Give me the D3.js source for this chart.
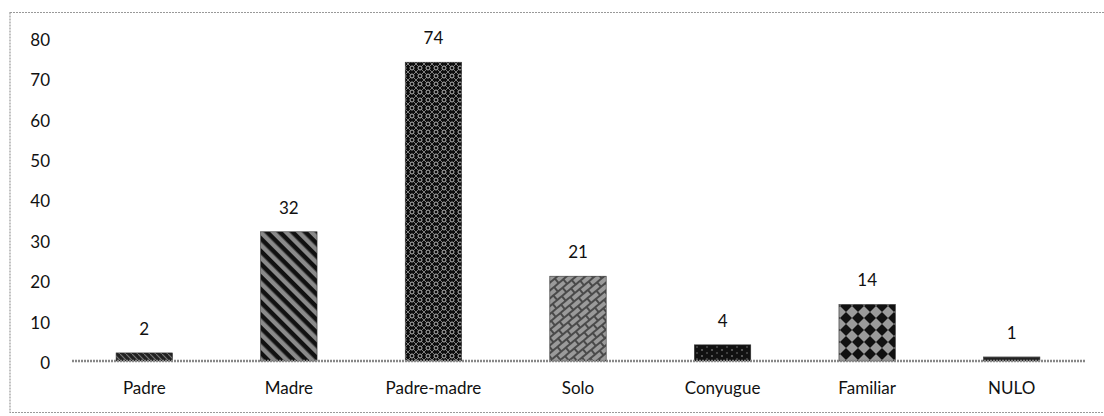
<!DOCTYPE html>
<html><head><meta charset="utf-8">
<script src="https://cdn.jsdelivr.net/npm/d3@7"></script>
<style>body{margin:0;background:#fff}svg{display:block}</style>
</head><body><svg id="c" width="1104" height="416"></svg>
<script>
const categories = ["Padre","Madre","Padre-madre","Solo","Conyugue","Familiar","NULO"];
const values = [2,32,74,21,4,14,1];
const yTicks = [0,10,20,30,40,50,60,70,80];
const patternIds = ["pPadre","pMadre","pPM","pSolo","pCony","pFam","pNulo"];

const svg = d3.select("#c");
const defs = svg.append("defs");
function pat(id, w, h, bg, draw, rot){
  const p = defs.append("pattern").attr("id", id).attr("patternUnits","userSpaceOnUse")
    .attr("width", w).attr("height", h);
  if (rot) p.attr("patternTransform", "rotate(" + rot + ")");
  p.append("rect").attr("width", w).attr("height", h).attr("fill", bg);
  draw(p);
}
pat("pPadre", 6, 6, "#222", p => p.append("path").attr("d","M0,0L6,6").attr("stroke","#777").attr("stroke-width",1.2), 0);
pat("pMadre", 9, 9, "#8a8a8a", p => p.append("rect").attr("width",9).attr("height",4.5).attr("fill","#111"), 45);
pat("pPM", 8, 8, "#0d0d0d", p => {
  p.append("circle").attr("cx",4).attr("cy",4).attr("r",2).attr("fill","none").attr("stroke","#bbb").attr("stroke-width",1);
  p.append("path").attr("d","M0,0L2,2M8,0L6,2M0,8L2,6M8,8L6,6").attr("stroke","#999").attr("stroke-width",0.8);
}, 0);
pat("pSolo", 12, 12, "#4a4a4a", p => {
  p.append("rect").attr("x",1).attr("y",1).attr("width",10).attr("height",4).attr("fill","#9a9a9a");
  p.append("rect").attr("x",7).attr("y",7).attr("width",10).attr("height",4).attr("fill","#9a9a9a");
  p.append("rect").attr("x",-5).attr("y",7).attr("width",10).attr("height",4).attr("fill","#9a9a9a");
}, -40);
pat("pCony", 10, 6, "#111", p => {
  p.append("circle").attr("cx",2).attr("cy",2).attr("r",0.8).attr("fill","#aaa");
  p.append("circle").attr("cx",7).attr("cy",5).attr("r",0.8).attr("fill","#777");
}, 0);
pat("pFam", 12, 12, "#9a9a9a", p => {
  p.append("path").attr("d","M6,0L12,6L6,12L0,6Z").attr("fill","#111");
}, 0);
pat("pNulo", 6, 6, "#222", p => p.append("path").attr("d","M0,3L6,3").attr("stroke","#555").attr("stroke-width",1), 0);

// border
svg.append("rect").attr("x",10).attr("y",12.5).attr("width",1110).attr("height",400)
  .attr("fill","none").attr("stroke","#999").attr("stroke-width",1.2).attr("stroke-dasharray","2,1");

const x = d3.scaleBand().domain(categories).range([72,1084]).paddingInner(0.61).paddingOuter(0.305);
const y = d3.scaleLinear().domain([0,80]).range([361,38]);
const font = "Lato, 'Open Sans', sans-serif";

// y tick labels
svg.append("g").selectAll("text").data(yTicks).join("text")
  .attr("x", 50).attr("y", d => y(d) + 2).attr("dy","0.35em").attr("text-anchor","end")
  .attr("font-family", font).attr("font-size", 17).attr("fill","#111").text(d => d);

// bars
svg.append("g").selectAll("rect").data(values).join("rect")
  .attr("x", (d,i) => x(categories[i])).attr("width", x.bandwidth())
  .attr("y", d => y(d)).attr("height", d => y(0) - y(d))
  .attr("fill", (d,i) => "url(#" + patternIds[i] + ")")
  .attr("stroke","#333").attr("stroke-width",0.6);

// axis line
svg.append("line").attr("x1",72).attr("x2",1086).attr("y1",y(0)).attr("y2",y(0))
  .attr("stroke","#888").attr("stroke-width",2.6).attr("stroke-dasharray","2,1");

// value labels
svg.append("g").selectAll("text").data(values).join("text")
  .attr("x", (d,i) => x(categories[i]) + x.bandwidth()/2).attr("y", d => y(d) - 18)
  .attr("text-anchor","middle").attr("font-family", font).attr("font-size", 17).attr("fill","#111").text(d => d);

// category labels
svg.append("g").selectAll("text").data(categories).join("text")
  .attr("x", d => x(d) + x.bandwidth()/2).attr("y", 394)
  .attr("text-anchor","middle").attr("font-family", font).attr("font-size", 17).attr("fill","#111").text(d => d);
</script></body></html>
